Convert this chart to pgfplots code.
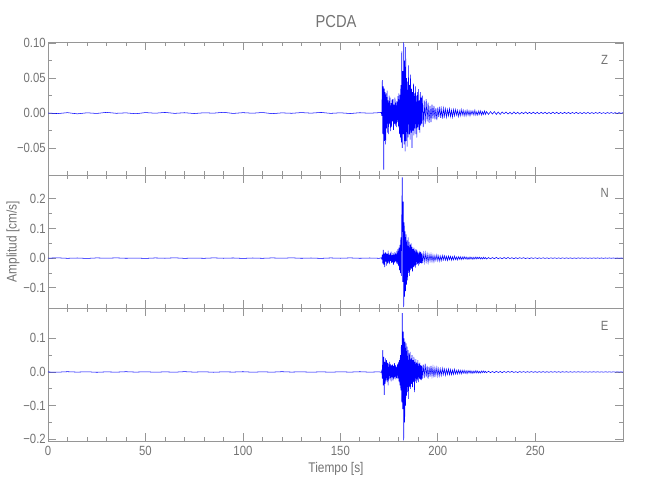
\documentclass[border=0pt]{standalone}
\usepackage{pgfplots}
\pgfplotsset{compat=1.18}
\usepackage{fontspec}
\setmainfont{Liberation Sans}[FakeStretch=0.85]
\definecolor{axc}{RGB}{150,150,150}
\definecolor{txc}{RGB}{115,115,115}
\definecolor{sig}{RGB}{0,0,255}
\pgfplotsset{seis/.style={
  scale only axis, width=431.25pt, height=99.75pt,
  xmin=0, xmax=295,
  axis line style={axc, line width=0.6pt},
  every tick/.style={axc, line width=0.6pt},
  tick align=inside,
  major tick length=6pt, minor tick length=3pt,
  xtick={0,50,100,150,200,250}, minor x tick num=4,
  minor y tick num=1,
  tick label style={font=\fontsize{10}{12}\selectfont, text=txc},
  yticklabel style={inner sep=1.5pt},
  /pgf/number format/assume math mode=true,
  no markers,
  cycle list={{sig, line width=0.3pt, mark=none}},
}}
\begin{document}
\begin{tikzpicture}
\path[use as bounding box] (0,0) rectangle (487.5pt,375pt);
% ---------------- Z ----------------
\begin{axis}[seis, at={(36pt,243.75pt)}, anchor=south west,
  ymin=-0.0886, ymax=0.1015,
  ytick={-0.05,0,0.05,0.1}, yticklabels={−0.05,0.00,0.05,0.10},
  xticklabels={}]
\addplot coordinates {(0,0)(5,-0.0008)(10,0.0005)(15,-0.0012)(20,0.0003)(25,-0.0006)(30,0.0009)(35,-0.0004)(40,0.0002)(45,-0.001)(50,0.0006)(55,-0.0003)(60,0.0008)(65,-0.0005)(70,0.0004)(75,-0.0007)(80,0.0003)(85,-0.0002)(90,0.001)(95,-0.0006)(100,0.0005)(105,-0.0003)(110,0.0007)(115,-0.0009)(120,0.0002)(125,-0.0004)(130,0.0006)(135,-0.0002)(140,0.0008)(145,-0.0005)(150,0.0003)(155,-0.0007)(160,0.0004)(165,-0.0003)(170,0.0005)
(171,0.001)(171.25,-0.004)(171.5,0.047)(171.75,-0.03)(172,0.038)(172.25,-0.081)(172.5,0.035)(172.75,-0.04)(173,0.03)(173.25,-0.045)(173.5,0.028)(173.75,-0.022)(174,0.032)(174.25,-0.028)(174.5,0.018)(174.75,-0.03)(175,0.025)(175.25,-0.015)(175.5,0.022)(175.75,-0.026)(176,0.014)(176.25,-0.02)(176.5,0.019)(176.75,-0.012)(177,0.02)(177.25,-0.024)(177.5,0.012)(177.75,-0.016)(178,0.022)(178.25,-0.018)(178.5,0.015)(178.75,-0.02)(179,0.017)(179.25,-0.013)(179.5,0.024)(179.75,-0.019)(180,0.028)(180.25,-0.03)(180.5,0.026)(180.75,-0.035)(181,0.04)(181.25,-0.042)(181.5,0.088)(181.75,-0.05)(182,0.06)(182.25,-0.03)(182.5,0.101)(182.75,-0.045)(183,0.075)(183.25,-0.055)(183.5,0.094)(183.75,-0.04)(184,0.05)(184.25,-0.048)(184.5,0.045)(184.75,-0.035)(185,0.068)(185.25,-0.03)(185.5,0.04)(185.75,-0.038)(186,0.055)(186.25,-0.028)(186.5,0.035)(186.75,-0.05)(187,0.03)(187.25,-0.025)(187.5,0.042)(187.75,-0.032)(188,0.028)(188.25,-0.022)(188.5,0.038)(188.75,-0.03)(189,0.025)(189.25,-0.035)(189.5,0.03)(189.75,-0.02)(190,0.034)(190.25,-0.024)(190.5,0.018)(190.75,-0.028)(191,0.03)(191.25,-0.018)(191.5,0.022)(191.75,-0.015)(192,0.025)
(192.5,-0.02)(193,0.018)(193.5,-0.016)(194,0.02)(194.5,-0.012)(195,0.015)(195.5,-0.014)(196,0.01)(196.5,-0.013)(197,0.012)(197.5,-0.008)(198,0.01)(198.5,-0.009)(199,0.007)(199.5,-0.01)(200,0.008)(200.5,-0.006)(201,0.009)(201.5,-0.007)(202,0.006)(202.5,-0.008)(203,0.007)(203.5,-0.005)(204,0.006)(204.5,-0.006)(205,0.005)(205.5,-0.004)(206,0.006)(206.5,-0.005)(207,0.004)(207.5,-0.006)(208,0.005)(208.5,-0.004)(209,0.005)(209.5,-0.003)(210,0.004)(210.5,-0.005)(211,0.003)(211.5,-0.004)(212,0.005)(212.5,-0.003)(213,0.004)(213.5,-0.004)(214,0.003)(214.5,-0.004)(215,0.004)(215.5,-0.003)(216,0.003)(216.5,-0.004)(217,0.003)(217.5,-0.002)(218,0.003)(218.5,-0.003)(219,0.004)(219.5,-0.003)(220,0.002)(220.5,-0.003)(221,0.003)(221.5,-0.002)(222,0.003)(222.5,-0.003)(223,0.002)(223.5,-0.002)(224,0.003)(224.5,-0.002)(225,0.002)
(226,-0.002)(227,0.002)(228,-0.0015)(229,0.002)(230,-0.002)(231,0.0015)(232,-0.002)(233,0.0015)(234,-0.001)(235,0.0015)(236,-0.0015)(237,0.001)(238,-0.0015)(239,0.0015)(240,-0.001)(241,0.001)(242,-0.0015)(243,0.001)(244,-0.001)(245,0.0015)(246,-0.001)(247,0.001)(248,-0.001)(249,0.0012)(250,-0.001)(251,0.001)(252,-0.0012)(253,0.001)(254,-0.0008)(255,0.001)(256,-0.001)(257,0.0008)(258,-0.001)(259,0.0012)(260,-0.0008)(261,0.001)(262,-0.001)(263,0.0008)(264,-0.0009)(265,0.001)(266,-0.0008)(267,0.0009)(268,-0.001)(269,0.0008)(270,-0.0007)(271,0.0009)(272,-0.0008)(273,0.0007)(274,-0.0009)(275,0.0008)(276,-0.0007)(277,0.0008)(278,-0.0008)(279,0.0007)(280,-0.0008)(281,0.0007)(282,-0.0006)(283,0.0008)(284,-0.0007)(285,0.0006)(286,-0.0007)(287,0.0007)(288,-0.0006)(289,0.0007)(290,-0.0006)(291,0.0006)(292,-0.0007)(293,0.0006)(294,-0.0005)(295,0.0005)};
\node[text=txc, font=\fontsize{10}{12}\selectfont] at (rel axis cs:0.968,0.865) {Z};
\end{axis}
% ---------------- N ----------------
\begin{axis}[seis, at={(36pt,144pt)}, anchor=south west,
  ymin=-0.168, ymax=0.28,
  ytick={-0.1,0,0.1,0.2}, yticklabels={−0.1,0.0,0.1,0.2},
  xticklabels={}]
\addplot coordinates {(0,0)(5,0.0009)(10,-0.0006)(15,0.0004)(20,-0.001)(25,0.0007)(30,-0.0003)(35,0.0008)(40,-0.0005)(45,0.0003)(50,-0.0009)(55,0.0006)(60,-0.0004)(65,0.001)(70,-0.0007)(75,0.0003)(80,-0.0006)(85,0.0008)(90,-0.0004)(95,0.0005)(100,-0.0009)(105,0.0004)(110,-0.0006)(115,0.0007)(120,-0.0003)(125,0.0009)(130,-0.0005)(135,0.0004)(140,-0.0008)(145,0.0006)(150,-0.0004)(155,0.0007)(160,-0.0005)(165,0.0004)(170,-0.0006)
(171,0.001)(171.25,-0.003)(171.5,0.012)(171.75,-0.018)(172,0.028)(172.25,-0.022)(172.5,0.015)(172.75,-0.03)(173,0.02)(173.25,-0.012)(173.5,0.018)(173.75,-0.025)(174,0.014)(174.25,-0.018)(174.5,0.025)(174.75,-0.015)(175,0.012)(175.25,-0.02)(175.5,0.016)(175.75,-0.01)(176,0.022)(176.25,-0.016)(176.5,0.01)(176.75,-0.014)(177,0.018)(177.25,-0.022)(177.5,0.012)(177.75,-0.015)(178,0.02)(178.25,-0.012)(178.5,0.015)(178.75,-0.018)(179,0.024)(179.25,-0.02)(179.5,0.03)(179.75,-0.025)(180,0.035)(180.25,-0.04)(180.5,0.045)(180.75,-0.05)(181,0.07)(181.25,-0.06)(181.5,0.15)(181.75,0.272)(182,-0.08)(182.25,0.19)(182.5,-0.165)(182.75,0.12)(183,-0.13)(183.25,0.09)(183.5,-0.11)(183.75,0.08)(184,-0.09)(184.25,0.06)(184.5,-0.075)(184.75,0.07)(185,-0.05)(185.25,0.055)(185.5,-0.06)(185.75,0.045)(186,-0.04)(186.25,0.05)(186.5,-0.035)(186.75,0.038)(187,-0.045)(187.25,0.03)(187.5,-0.03)(187.75,0.035)(188,-0.028)(188.25,0.025)(188.5,-0.032)(188.75,0.03)(189,-0.022)(189.25,0.028)(189.5,-0.02)(189.75,0.022)(190,-0.025)(190.25,0.018)(190.5,-0.02)(190.75,0.024)(191,-0.016)(191.25,0.02)(191.5,-0.018)(191.75,0.015)(192,-0.017)
(192.5,0.016)(193,-0.014)(193.5,0.018)(194,-0.012)(194.5,0.014)(195,-0.015)(195.5,0.012)(196,-0.01)(196.5,0.013)(197,-0.011)(197.5,0.01)(198,-0.012)(198.5,0.009)(199,-0.008)(199.5,0.011)(200,-0.009)(200.5,0.008)(201,-0.01)(201.5,0.007)(202,-0.008)(202.5,0.009)(203,-0.006)(203.5,0.008)(204,-0.007)(204.5,0.006)(205,-0.008)(205.5,0.007)(206,-0.005)(206.5,0.006)(207,-0.007)(207.5,0.005)(208,-0.006)(208.5,0.007)(209,-0.005)(209.5,0.004)(210,-0.006)(210.5,0.005)(211,-0.004)(211.5,0.005)(212,-0.005)(212.5,0.004)(213,-0.004)(213.5,0.005)(214,-0.003)(214.5,0.004)(215,-0.004)(215.5,0.003)(216,-0.004)(216.5,0.004)(217,-0.003)(217.5,0.003)(218,-0.004)(218.5,0.003)(219,-0.003)(219.5,0.004)(220,-0.003)(220.5,0.003)(221,-0.002)(221.5,0.003)(222,-0.003)(222.5,0.002)(223,-0.003)(223.5,0.003)(224,-0.002)(224.5,0.002)(225,-0.003)
(226,0.002)(227,-0.0025)(228,0.002)(229,-0.002)(230,0.0025)(231,-0.002)(232,0.0015)(233,-0.002)(234,0.002)(235,-0.0015)(236,0.002)(237,-0.0015)(238,0.0015)(239,-0.002)(240,0.0015)(241,-0.0015)(242,0.0015)(243,-0.001)(244,0.0015)(245,-0.0015)(246,0.001)(247,-0.0015)(248,0.0012)(249,-0.001)(250,0.0012)(251,-0.0012)(252,0.001)(253,-0.001)(254,0.0012)(255,-0.001)(256,0.001)(257,-0.0012)(258,0.001)(259,-0.0008)(260,0.001)(261,-0.001)(262,0.0008)(263,-0.001)(264,0.0009)(265,-0.0008)(266,0.0009)(267,-0.0008)(268,0.0008)(269,-0.0009)(270,0.0007)(271,-0.0008)(272,0.0008)(273,-0.0007)(274,0.0008)(275,-0.0007)(276,0.0007)(277,-0.0008)(278,0.0006)(279,-0.0007)(280,0.0007)(281,-0.0006)(282,0.0007)(283,-0.0006)(284,0.0006)(285,-0.0007)(286,0.0006)(287,-0.0005)(288,0.0006)(289,-0.0006)(290,0.0005)(291,-0.0006)(292,0.0005)(293,-0.0005)(294,0.0005)(295,-0.0004)};
\node[text=txc, font=\fontsize{10}{12}\selectfont] at (rel axis cs:0.968,0.865) {N};
\end{axis}
% ---------------- E ----------------
\begin{axis}[seis, at={(36pt,44.25pt)}, anchor=south west,
  ymin=-0.205, ymax=0.19,
  ytick={-0.2,-0.1,0,0.1}, yticklabels={−0.2,−0.1,0.0,0.1},
  xticklabels={0,50,100,150,200,250}]
\addplot coordinates {(0,0)(5,-0.0006)(10,0.0008)(15,-0.0004)(20,0.0006)(25,-0.0009)(30,0.0003)(35,-0.0005)(40,0.0008)(45,-0.0004)(50,0.0006)(55,-0.0007)(60,0.0003)(65,-0.0006)(70,0.0009)(75,-0.0004)(80,0.0005)(85,-0.0008)(90,0.0004)(95,-0.0003)(100,0.0007)(105,-0.0006)(110,0.0004)(115,-0.0005)(120,0.0008)(125,-0.0003)(130,0.0005)(135,-0.0007)(140,0.0004)(145,-0.0006)(150,0.0005)(155,-0.0004)(160,0.0007)(165,-0.0005)(170,0.0004)
(171,-0.001)(171.25,0.004)(171.5,-0.02)(171.75,0.065)(172,-0.04)(172.25,0.045)(172.5,-0.068)(172.75,0.03)(173,-0.035)(173.25,0.04)(173.5,-0.025)(173.75,0.035)(174,-0.03)(174.25,0.028)(174.5,-0.04)(174.75,0.025)(175,-0.022)(175.25,0.03)(175.5,-0.018)(175.75,0.024)(176,-0.028)(176.25,0.02)(176.5,-0.016)(176.75,0.022)(177,-0.025)(177.25,0.018)(177.5,-0.02)(177.75,0.026)(178,-0.015)(178.25,0.02)(178.5,-0.022)(178.75,0.016)(179,-0.018)(179.25,0.024)(179.5,-0.02)(179.75,0.03)(180,-0.028)(180.25,0.035)(180.5,-0.04)(180.75,0.05)(181,-0.055)(181.25,0.08)(181.5,-0.09)(181.75,0.175)(182,-0.11)(182.25,0.12)(182.5,-0.203)(182.75,0.1)(183,-0.15)(183.25,0.09)(183.5,-0.1)(183.75,0.085)(184,-0.07)(184.25,0.075)(184.5,-0.06)(184.75,0.065)(185,-0.08)(185.25,0.055)(185.5,-0.045)(185.75,0.06)(186,-0.05)(186.25,0.04)(186.5,-0.035)(186.75,0.05)(187,-0.045)(187.25,0.035)(187.5,-0.03)(187.75,0.045)(188,-0.06)(188.25,0.03)(188.5,-0.028)(188.75,0.038)(189,-0.032)(189.25,0.028)(189.5,-0.025)(189.75,0.035)(190,-0.03)(190.25,0.025)(190.5,-0.02)(190.75,0.028)(191,-0.022)(191.25,0.02)(191.5,-0.024)(191.75,0.018)(192,-0.02)
(192.5,0.022)(193,-0.018)(193.5,0.025)(194,-0.015)(194.5,0.018)(195,-0.02)(195.5,0.016)(196,-0.014)(196.5,0.018)(197,-0.012)(197.5,0.014)(198,-0.016)(198.5,0.012)(199,-0.01)(199.5,0.013)(200,-0.012)(200.5,0.01)(201,-0.011)(201.5,0.009)(202,-0.01)(202.5,0.011)(203,-0.008)(203.5,0.009)(204,-0.01)(204.5,0.008)(205,-0.007)(205.5,0.009)(206,-0.008)(206.5,0.007)(207,-0.008)(207.5,0.006)(208,-0.007)(208.5,0.008)(209,-0.006)(209.5,0.005)(210,-0.006)(210.5,0.006)(211,-0.005)(211.5,0.005)(212,-0.006)(212.5,0.005)(213,-0.004)(213.5,0.005)(214,-0.004)(214.5,0.004)(215,-0.005)(215.5,0.004)(216,-0.003)(216.5,0.004)(217,-0.004)(217.5,0.003)(218,-0.004)(218.5,0.003)(219,-0.003)(219.5,0.004)(220,-0.003)(220.5,0.003)(221,-0.003)(221.5,0.002)(222,-0.003)(222.5,0.003)(223,-0.002)(223.5,0.003)(224,-0.002)(224.5,0.002)(225,-0.002)
(226,0.002)(227,-0.002)(228,0.0015)(229,-0.002)(230,0.002)(231,-0.0015)(232,0.0015)(233,-0.002)(234,0.0015)(235,-0.0015)(236,0.0015)(237,-0.001)(238,0.0015)(239,-0.0015)(240,0.001)(241,-0.0015)(242,0.0012)(243,-0.001)(244,0.0012)(245,-0.0012)(246,0.001)(247,-0.001)(248,0.0012)(249,-0.001)(250,0.001)(251,-0.0012)(252,0.001)(253,-0.0009)(254,0.001)(255,-0.001)(256,0.0008)(257,-0.001)(258,0.0009)(259,-0.0008)(260,0.001)(261,-0.0008)(262,0.0008)(263,-0.0009)(264,0.0008)(265,-0.0007)(266,0.0008)(267,-0.0008)(268,0.0007)(269,-0.0008)(270,0.0007)(271,-0.0007)(272,0.0008)(273,-0.0006)(274,0.0007)(275,-0.0007)(276,0.0006)(277,-0.0007)(278,0.0006)(279,-0.0006)(280,0.0007)(281,-0.0006)(282,0.0006)(283,-0.0006)(284,0.0005)(285,-0.0006)(286,0.0006)(287,-0.0005)(288,0.0005)(289,-0.0006)(290,0.0005)(291,-0.0005)(292,0.0005)(293,-0.0004)(294,0.0005)(295,-0.0004)};
\node[text=txc, font=\fontsize{10}{12}\selectfont] at (rel axis cs:0.968,0.865) {E};
\end{axis}
\node[text=txc, font=\fontsize{13}{15}\selectfont] at (252pt,358.5pt) {PCDA};
\node[text=txc, font=\fontsize{10.5}{12}\selectfont] at (252pt,23.25pt) {Tiempo [s]};
\node[text=txc, font=\fontsize{10.5}{12}\selectfont, rotate=90] at (9.75pt,193.9pt) {Amplitud [cm/s]};
\end{tikzpicture}
\end{document}
